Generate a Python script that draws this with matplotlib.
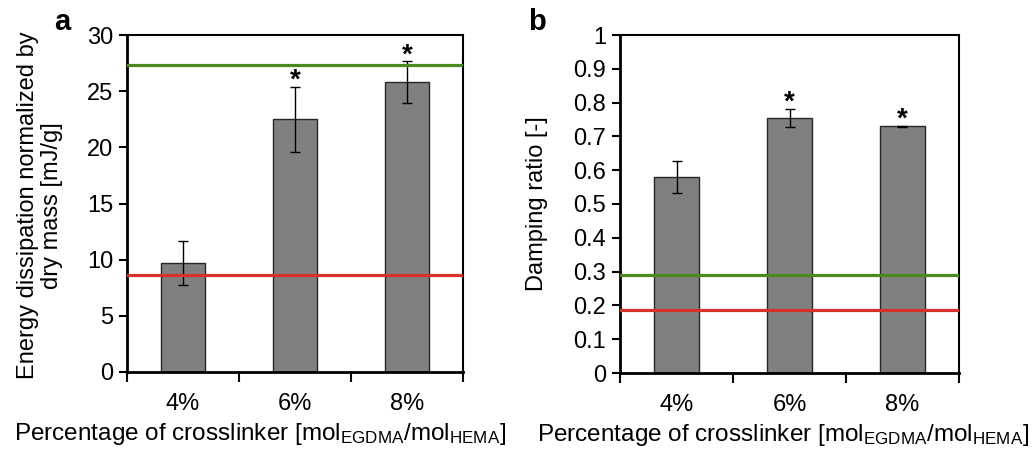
import matplotlib
matplotlib.use("Agg")
import matplotlib.pyplot as plt
from matplotlib.ticker import FixedLocator, MultipleLocator

plt.rcParams['font.family'] = ['Liberation Sans', 'DejaVu Sans']
plt.rcParams['mathtext.default'] = 'regular'

categories = ['4%', '6%', '8%']
energy = [9.7, 22.5, 25.8]
energy_err = [1.95, 2.9, 1.85]
energy_green = 27.3
energy_red = 8.6
damping = [0.58, 0.755, 0.73]
damping_err = [0.047, 0.027, 0.002]
damping_green = 0.29
damping_red = 0.185
sig_a = ['', '*', '*']
sig_b = ['', '*', '*']

fig = plt.figure(figsize=(10.34, 4.5), dpi=100)
W, H = 1034, 450
ax1 = fig.add_axes([127 / W, 1 - 372 / H, (463 - 127) / W, (372 - 35) / H])
ax2 = fig.add_axes([620 / W, 1 - 373 / H, (959 - 620) / W, (373 - 35) / H])

xlabel = 'Percentage of crosslinker [mol$_{EGDMA}$/mol$_{HEMA}$]'
FS = 17

def setup(ax, vals, errs, green, red, sig, ylim, major, fmt, ylabel, star_off):
    x = list(range(len(categories)))
    ax.bar(x, vals, width=0.4, color='#808080', edgecolor='#262626', linewidth=1.0, zorder=2)
    ax.errorbar(x, vals, yerr=errs, fmt='none', ecolor='black', elinewidth=1.0,
                capsize=3.5, capthick=1.0, zorder=3)
    ax.axhline(green, color='#4a8a1f', linewidth=2.3, zorder=4)
    ax.axhline(red, color='#d9302a', linewidth=2.3, zorder=4)
    for xi, v, e, s in zip(x, vals, errs, sig):
        if s:
            ax.text(xi, v + e + star_off, s, ha='center', va='bottom', fontsize=20, fontweight='bold')
    ax.set_xlim(-0.5, len(categories) - 0.5)
    ax.set_ylim(*ylim)
    ax.yaxis.set_major_locator(MultipleLocator(major))
    ax.yaxis.set_major_formatter(plt.FuncFormatter(fmt))
    ax.set_xticks(x)
    ax.set_xticklabels(categories)
    ax.xaxis.set_minor_locator(FixedLocator([-0.5 + i for i in range(len(categories) + 1)]))
    ax.tick_params(axis='x', which='major', length=0, pad=15, labelsize=FS)
    ax.tick_params(axis='x', which='minor', length=7, width=1.5, direction='out')
    ax.tick_params(axis='y', which='major', length=6, width=1.5, direction='out', labelsize=FS, pad=4)
    for sp in ['left', 'bottom']:
        ax.spines[sp].set_linewidth(2.0)
    for sp in ['top', 'right']:
        ax.spines[sp].set_linewidth(1.5)
    ax.set_xlabel(xlabel, fontsize=FS + 0.5, va='top')
    ax.set_ylabel(ylabel, fontsize=FS, linespacing=1.15)

setup(ax1, energy, energy_err, energy_green, energy_red, sig_a, (0, 30), 5,
      lambda v, p: f'{v:g}', 'Energy dissipation normalized by\ndry mass [mJ/g]', -0.6)
setup(ax2, damping, damping_err, damping_green, damping_red, sig_b, (0, 1), 0.1,
      lambda v, p: ('0' if abs(v) < 1e-9 else ('1' if abs(v - 1) < 1e-9 else f'{v:.1f}')),
      'Damping ratio [-]', -0.02)

ax1.yaxis.set_label_coords(-0.19, 0.494)
ax2.yaxis.set_label_coords(-0.212, 0.5)
ax1.xaxis.set_label_coords(0.396, -0.145)
ax2.xaxis.set_label_coords(0.48, -0.145)

fig.text(62 / W, 1 - 22 / H, 'a', fontsize=21, fontweight='bold', ha='center', va='center')
fig.text(537 / W, 1 - 22 / H, 'b', fontsize=21, fontweight='bold', ha='center', va='center')

fig.savefig('out.png', dpi=100)
